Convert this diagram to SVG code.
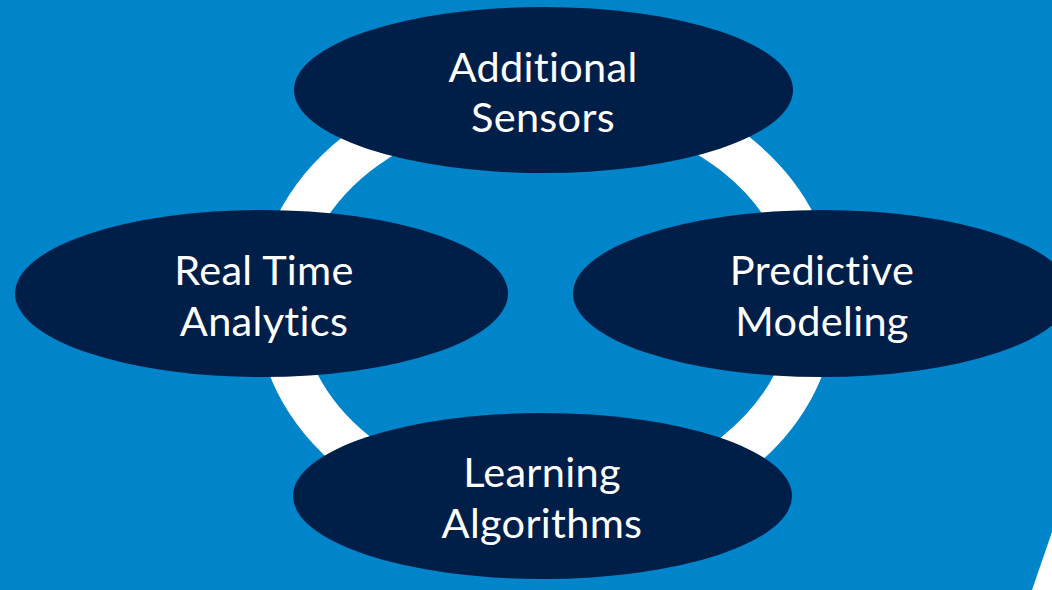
<svg xmlns="http://www.w3.org/2000/svg" width="1052" height="590" viewBox="0 0 1052 590">
<style>
.node{fill:#001F48;}
.lbl{font-family:Lato,"Open Sans","Liberation Sans",sans-serif;font-size:41.5px;fill:#FFFFFF;text-anchor:middle;font-variant-ligatures:none;font-feature-settings:"liga" 0;letter-spacing:0.3px;}
.ring{fill:none;stroke:#FFFFFF;stroke-width:44;}
</style>
<rect width="1052" height="590" fill="#0085CA"/>
<polygon points="1052,532 1032,590 1052,590" fill="#FFFFFF"/>
<g id="connectors">
<ellipse class="ring" cx="546" cy="304" rx="268" ry="212"/>
</g>
<g id="node-additional-sensors">
<ellipse class="node" cx="543.5" cy="90" rx="249.5" ry="83"/>
<text class="lbl" x="543" y="82">Additional</text>
<text class="lbl" x="543" y="132">Sensors</text>
</g>
<g id="node-real-time-analytics">
<ellipse class="node" cx="261.5" cy="293.5" rx="246.5" ry="83.5"/>
<text class="lbl" x="264" y="285">Real Time</text>
<text class="lbl" x="264" y="336">Analytics</text>
</g>
<g id="node-predictive-modeling">
<ellipse class="node" cx="822" cy="293.5" rx="249" ry="83.5"/>
<text class="lbl" x="822" y="285">Predictive</text>
<text class="lbl" x="822" y="336">Modeling</text>
</g>
<g id="node-learning-algorithms">
<ellipse class="node" cx="542.5" cy="496" rx="249.5" ry="83"/>
<text class="lbl" x="542" y="487">Learning</text>
<text class="lbl" x="542" y="538">Algorithms</text>
</g>
</svg>
